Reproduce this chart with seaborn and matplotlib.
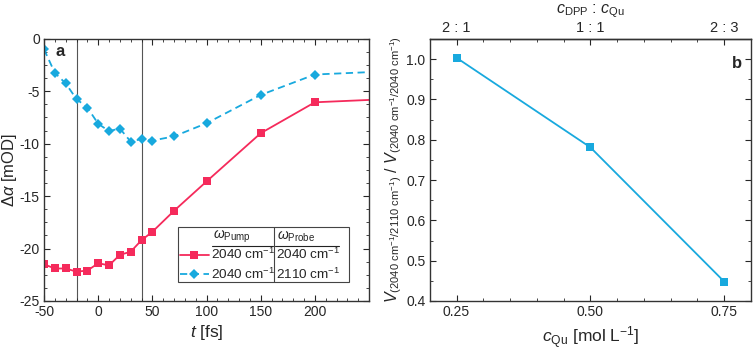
import numpy as np
import pandas as pd
import seaborn as sns
import matplotlib.pyplot as plt
from matplotlib.lines import Line2D
from matplotlib.patches import Rectangle
from matplotlib.ticker import MultipleLocator, FixedLocator

# --- panel a: transient absorption vs delay ---
t_fs = [-50, -40, -30, -20, -10, 0, 10, 20, 30, 40, 50, 70, 100, 150, 200, 300]
da_2040 = [-21.5, -21.9, -21.9, -22.2, -22.1, -21.4, -21.6, -20.6, -20.3,
           -19.2, -18.4, -16.4, -13.6, -9.0, -6.05, -5.6]
da_2110 = [-1.0, -3.25, -4.25, -5.75, -6.55, -8.1, -8.8, -8.55, -9.8,
           -9.55, -9.7, -9.3, -8.05, -5.35, -3.4, -2.95]
vlines_fs = [-20, 40]

# --- panel b: ratio vs concentration ---
c_qu = [0.25, 0.50, 0.75]
ratio = [1.003, 0.781, 0.448]
ratio_labels = ["2 : 1", "1 : 1", "2 : 3"]

red = "#F52A5B"
blue = "#18A9DE"

df_a = pd.concat([
    pd.DataFrame({"t": t_fs, "da": da_2040, "probe": "2040"}),
    pd.DataFrame({"t": t_fs, "da": da_2110, "probe": "2110"}),
], ignore_index=True)
df_b = pd.DataFrame({"c": c_qu, "r": ratio})

sns.set_style("ticks")
plt.rcParams["font.family"] = ["Liberation Sans", "DejaVu Sans"]
plt.rcParams["mathtext.fontset"] = "custom"
plt.rcParams["mathtext.rm"] = "Liberation Sans"
plt.rcParams["mathtext.sf"] = "Liberation Sans"
plt.rcParams["mathtext.it"] = "Liberation Sans:italic"
plt.rcParams["mathtext.bf"] = "Liberation Sans:bold"
plt.rcParams["axes.unicode_minus"] = False
plt.rcParams["axes.edgecolor"] = "#333333"
plt.rcParams["axes.linewidth"] = 1.0

fig = plt.figure(figsize=(7.54, 3.5), dpi=100)
ax1 = fig.add_axes([0.0584, 0.14, 0.431, 0.749])
ax2 = fig.add_axes([0.570, 0.14, 0.426, 0.749])

sns.lineplot(data=df_a, x="t", y="da", hue="probe", style="probe",
             palette={"2040": red, "2110": blue},
             markers={"2040": "s", "2110": "D"},
             dashes={"2040": "", "2110": (4, 2.5)},
             markersize=5.5, markeredgewidth=0, linewidth=1.3,
             legend=False, ax=ax1)
for v in vlines_fs:
    ax1.axvline(v, color="#555555", lw=0.8, zorder=0)

ax1.set_xlim(-50, 250)
ax1.set_ylim(-25, 0)
ax1.xaxis.set_major_locator(FixedLocator([-50, 0, 50, 100, 150, 200]))
ax1.xaxis.set_minor_locator(MultipleLocator(10))
ax1.yaxis.set_major_locator(MultipleLocator(5))
ax1.yaxis.set_minor_locator(MultipleLocator(1.25))
ax1.set_xlabel(r"$t$ [fs]", fontsize=12.5, labelpad=3)
ax1.set_ylabel(r"$\Delta\alpha$ [mOD]", fontsize=12)
ax1.yaxis.set_label_coords(-0.078, 0.5)
ax1.text(0.034, 0.95, "a", transform=ax1.transAxes, fontsize=12,
         fontweight="bold", va="center")

# table-style legend
tr = ax1.transAxes
ax1.add_patch(Rectangle((0.412, 0.073), 0.526, 0.209, transform=tr,
                        fill=True, facecolor="white", edgecolor="#444444",
                        lw=0.8, zorder=5))
ax1.add_line(Line2D([0.708, 0.708], [0.073, 0.282], transform=tr,
                    color="#444444", lw=0.8, zorder=6))
ax1.add_line(Line2D([0.517, 0.706], [0.211, 0.211], transform=tr,
                    color="#222222", lw=0.8, zorder=6))
ax1.add_line(Line2D([0.711, 0.908], [0.211, 0.211], transform=tr,
                    color="#222222", lw=0.8, zorder=6))
ax1.text(0.52, 0.243, r"$\omega_\mathrm{Pump}$", transform=tr, fontsize=10,
         va="center", zorder=7)
ax1.text(0.716, 0.243, r"$\omega_\mathrm{Probe}$", transform=tr, fontsize=10,
         va="center", zorder=7)
rows = [(0.176, red, "s", "-", "2040 cm$^{-1}$", "2040 cm$^{-1}$"),
        (0.103, blue, "D", (0, (4, 2.5)), "2040 cm$^{-1}$", "2110 cm$^{-1}$")]
for yy, col, mk, ls, pump, probe in rows:
    ax1.add_line(Line2D([0.418, 0.508], [yy, yy], transform=tr, color=col,
                        ls=ls, lw=1.3, zorder=7))
    ax1.add_line(Line2D([0.463], [yy], transform=tr, color=col, marker=mk,
                        markersize=5.5, markeredgewidth=0, zorder=7))
    ax1.text(0.513, yy, pump, transform=tr, fontsize=9.7, va="center", zorder=7)
    ax1.text(0.714, yy, probe, transform=tr, fontsize=9.7, va="center", zorder=7)

sns.lineplot(data=df_b, x="c", y="r", color=blue, marker="s",
             markersize=5.5, markeredgewidth=0, linewidth=1.3, ax=ax2)
ax2.set_xlim(0.2, 0.8)
ax2.set_ylim(0.4, 1.05)
ax2.xaxis.set_major_locator(FixedLocator(c_qu))
ax2.xaxis.set_major_formatter(plt.FixedFormatter(["0.25", "0.50", "0.75"]))
ax2.xaxis.set_minor_locator(MultipleLocator(0.05))
ax2.yaxis.set_major_locator(MultipleLocator(0.1))
ax2.yaxis.set_minor_locator(MultipleLocator(0.05))
ax2.yaxis.set_major_formatter(plt.FormatStrFormatter("%.1f"))
ax2.set_xlabel(r"$c_\mathrm{Qu}$ [mol L$^{-1}$]", fontsize=12.5, labelpad=4)
ax2.set_ylabel(r"$V_{(\mathrm{2040\ cm^{-1}/2110\ cm^{-1}})}\ /\ "
               r"V_{(\mathrm{2040\ cm^{-1}/2040\ cm^{-1}})}$",
               fontsize=11.5, labelpad=2)
ax2.text(0.955, 0.905, "b", transform=ax2.transAxes, fontsize=12,
         fontweight="bold", va="center", ha="center")

top = ax2.secondary_xaxis("top")
top.set_xticks(c_qu)
top.set_xticklabels(ratio_labels)
top.xaxis.set_minor_locator(MultipleLocator(0.05))
top.tick_params(which="major", direction="in", length=4, labelsize=10.5, pad=3)
top.tick_params(which="minor", direction="in", length=2)
top.set_xlabel(r"$c_\mathrm{DPP}$ : $c_\mathrm{Qu}$", fontsize=11.5, labelpad=5)

for ax in (ax1, ax2):
    ax.tick_params(which="major", direction="in", length=4, labelsize=10,
                   top=(ax is ax1), right=True, pad=3)
    ax.tick_params(which="minor", direction="in", length=2,
                   top=(ax is ax1), right=True)

fig.savefig("out.png", dpi=100)
